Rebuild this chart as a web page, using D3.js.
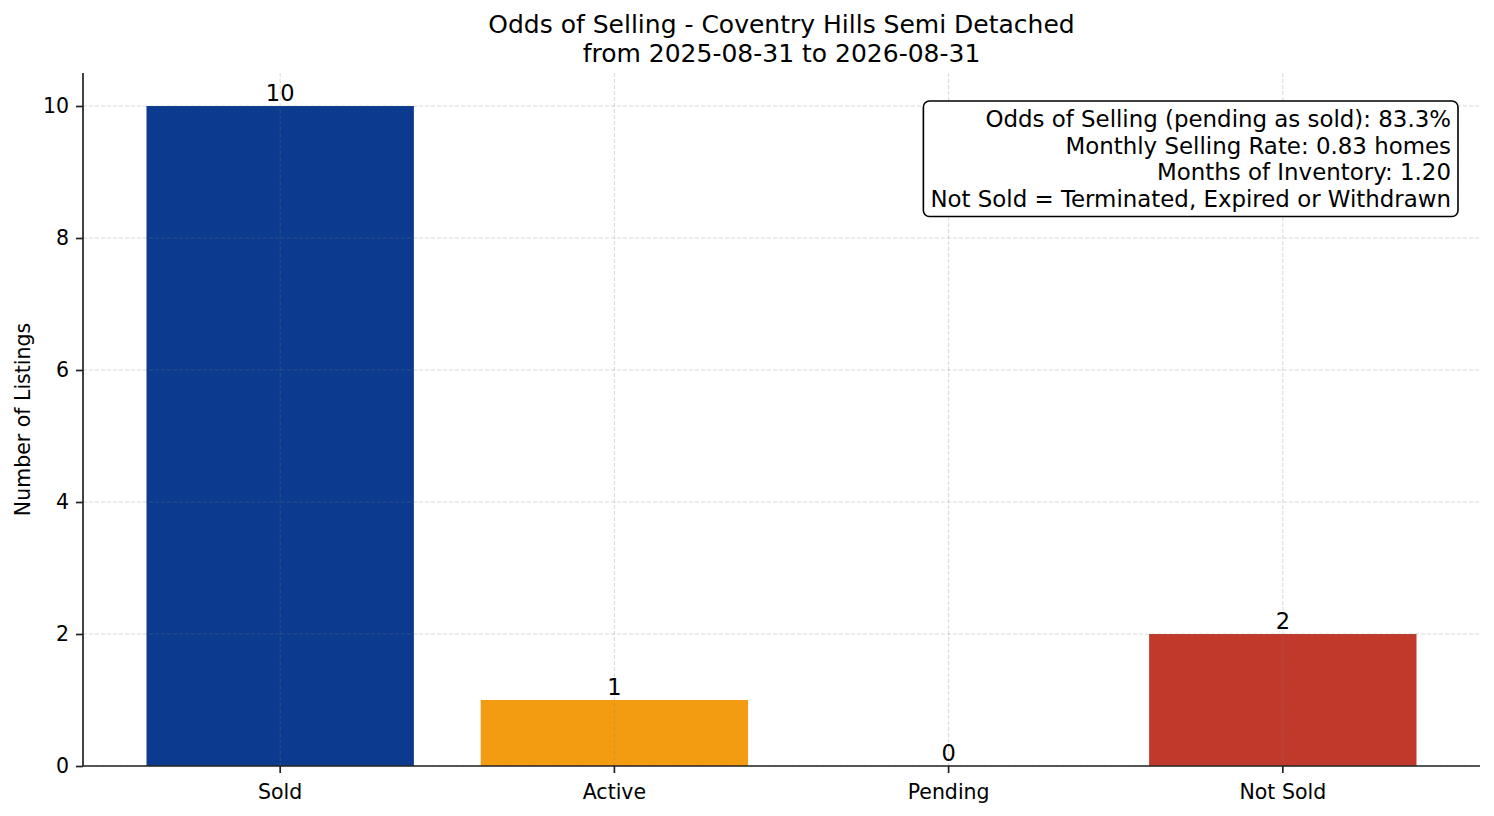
<!DOCTYPE html>
<html>
<head>
<meta charset="utf-8">
<script src="https://cdn.jsdelivr.net/npm/d3@7"></script>
<style>
  body { margin: 0; background: #fff; }
  svg { display: block; font-family: "DejaVu Sans", sans-serif; }
</style>
</head>
<body>
<div id="container"></div>
<script>
// data
const categories = ['Sold', 'Active', 'Pending', 'Not Sold'];
const counts = [10, 1, 0, 2];
const barColors = ['#0b3a8f', '#f39c12', '#9b59b6', '#c0392b'];
const yTicks = [0, 2, 4, 6, 8, 10];
const titleLines = ['Odds of Selling - Coventry Hills Semi Detached', 'from 2025-08-31 to 2026-08-31'];
const infoLines = [
    'Odds of Selling (pending as sold): 83.3%',
    'Monthly Selling Rate: 0.83 homes',
    'Months of Inventory: 1.20',
    'Not Sold = Terminated, Expired or Withdrawn'
];

const W = 1494, H = 816;
const margin = { top: 73, right: 14, bottom: 50, left: 83 };
const width = W - margin.left - margin.right;
const height = H - margin.top - margin.bottom;

const svg = d3.select('#container')
    .append('svg')
    .attr('width', W)
    .attr('height', H);

const g = svg.append('g')
    .attr('transform', `translate(${margin.left}, ${margin.top})`);

// matplotlib bar width 0.8 with 5% auto margins
const x = d3.scaleBand()
    .domain(categories)
    .range([0, width])
    .paddingInner(0.2)
    .paddingOuter(0.19);

const y = d3.scaleLinear()
    .domain([0, 10.5])
    .range([height, 0]);

// bars
g.append('g')
    .selectAll('rect')
    .data(categories)
    .enter()
    .append('rect')
    .attr('x', d => x(d))
    .attr('width', x.bandwidth())
    .attr('y', (d, i) => y(counts[i]))
    .attr('height', (d, i) => y(0) - y(counts[i]))
    .attr('fill', (d, i) => barColors[i]);

// grid (drawn over the bars, like matplotlib's default)
const grid = g.append('g')
    .attr('stroke', '#808080')
    .attr('stroke-opacity', 0.3)
    .attr('stroke-width', 1)
    .attr('stroke-dasharray', '4,2');

grid.selectAll('.hgrid')
    .data(yTicks)
    .enter()
    .append('line')
    .attr('x1', 0)
    .attr('x2', width)
    .attr('y1', d => y(d))
    .attr('y2', d => y(d));

grid.selectAll('.vgrid')
    .data(categories)
    .enter()
    .append('line')
    .attr('x1', d => x(d) + x.bandwidth() / 2)
    .attr('x2', d => x(d) + x.bandwidth() / 2)
    .attr('y1', 0)
    .attr('y2', height);

// value labels
g.append('g')
    .selectAll('text')
    .data(categories)
    .enter()
    .append('text')
    .attr('x', d => x(d) + x.bandwidth() / 2)
    .attr('y', (d, i) => y(counts[i]) - 5)
    .attr('text-anchor', 'middle')
    .attr('font-size', 22.5)
    .attr('fill', '#000')
    .text((d, i) => counts[i]);

// axes
const xAxis = g.append('g')
    .attr('transform', `translate(0, ${height})`)
    .call(d3.axisBottom(x).tickSize(7).tickPadding(7));

const yAxis = g.append('g')
    .call(d3.axisLeft(y).tickValues(yTicks).tickSize(7).tickPadding(7));

[xAxis, yAxis].forEach(ax => {
    ax.attr('font-family', null).attr('font-size', 20.5);
    ax.select('.domain').attr('stroke', '#222').attr('stroke-width', 1.7);
    ax.selectAll('.tick line').attr('stroke', '#222').attr('stroke-width', 1.7);
    ax.selectAll('.tick text').attr('fill', '#000');
});
xAxis.selectAll('.tick text').attr('dy', '0.95em');
// remove the outer tick stub of the domain paths
xAxis.select('.domain').attr('d', `M0,0H${width}`);
yAxis.select('.domain').attr('d', `M0,${height}V0`);

// y label
svg.append('text')
    .attr('transform', `translate(30, ${margin.top + height / 2}) rotate(-90)`)
    .attr('text-anchor', 'middle')
    .attr('font-size', 20.5)
    .attr('fill', '#000')
    .text('Number of Listings');

// title
svg.append('g')
    .selectAll('text')
    .data(titleLines)
    .enter()
    .append('text')
    .attr('x', margin.left + width / 2)
    .attr('y', (d, i) => 33 + i * 28.5)
    .attr('text-anchor', 'middle')
    .attr('font-size', 25)
    .attr('fill', '#000')
    .text(d => d);

// info box
const info = g.append('g');
const infoRect = info.append('rect');
const infoText = info.append('g');
infoText.selectAll('text')
    .data(infoLines)
    .enter()
    .append('text')
    .attr('x', width - 29)
    .attr('y', (d, i) => 127 - margin.top + i * 26.5)
    .attr('text-anchor', 'end')
    .attr('font-size', 22.9)
    .attr('fill', '#000')
    .text(d => d);

const bb = infoText.node().getBBox();
const pad = 7;
infoRect
    .attr('x', bb.x - pad)
    .attr('y', bb.y + 2 - pad)
    .attr('width', bb.width + 2 * pad)
    .attr('height', bb.height - 2 + 2 * pad - 2)
    .attr('rx', 6)
    .attr('fill', '#fff')
    .attr('stroke', '#000')
    .attr('stroke-width', 1.6);
</script>
</body>
</html>
